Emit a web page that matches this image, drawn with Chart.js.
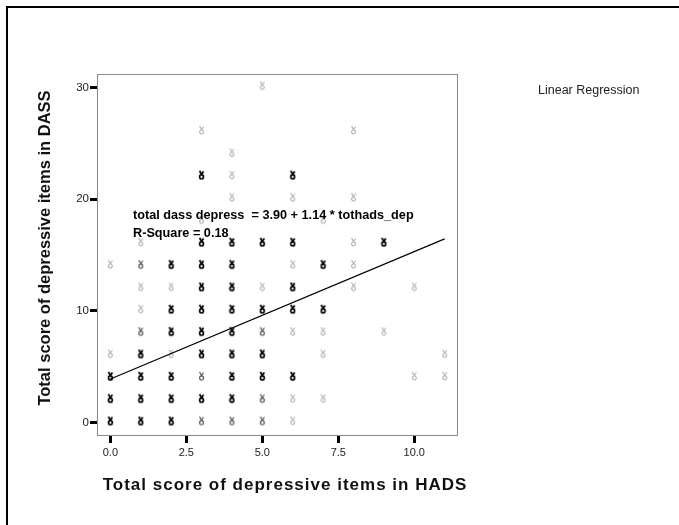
<!DOCTYPE html>
<html>
<head>
<meta charset="utf-8">
<title>DASS vs HADS depression scores</title>
<script src="https://cdn.jsdelivr.net/npm/chart.js@4.4.1/dist/chart.umd.min.js"></script>
<style>
    html, body { margin: 0; padding: 0; background: #ffffff; }
    #wrap { position: relative; width: 679px; height: 525px; }
</style>
</head>
<body>
<div id="wrap"><canvas id="chart" width="679" height="525"></canvas></div>
<script>
// Scatter data (HADS score, DASS score), grouped by how dark the symbol is
const darkX = [0,0,0, 1,1,1,1, 2,2,2,2,2,2, 3,3,3,3,3,3,3,3, 4,4,4,4,4,4,4,4, 5,5,5,5, 6,6,6,6,6, 7,7, 9];
const darkY = [4,2,0, 6,4,2,0, 14,10,8,4,2,0, 22,16,14,12,10,8,6,2, 16,14,12,10,8,6,4,2, 16,10,6,4, 22,16,12,10,4, 14,10, 16];

const midX = [1,1, 3,3, 4, 5,5,5];
const midY = [14,8, 4,0, 0, 8,2,0];

const lightX = [0,0, 1,1,1, 2,2, 3,3, 4,4,4, 5,5, 6,6,6,6,6, 7,7,7,7, 8,8,8,8,8, 9, 10,10, 11,11];
const lightY = [14,6, 16,12,10, 12,6, 26,18, 24,22,20, 30,12, 20,14,8,2,0, 18,8,6,2, 26,20,16,14,12, 8, 12,4, 6,4];

// Fitted line: total dass depress = 3.90 + 1.14 * tothads_dep
const fitIntercept = 3.90;
const fitSlope = 1.14;
const fitRange = [0, 11];
const rSquare = '0.18';

// Axis ticks
const xTicks = [0, 2.5, 5, 7.5, 10];
const yTicks = [0, 10, 20, 30];

const FONT = '"Liberation Sans", Arial, Helvetica, sans-serif';

function toPoints(xs, ys) {
    return xs.map((x, i) => ({ x: x, y: ys[i] }));
}

// small SPSS-like plotting symbol, sitting a little above its point
function makeGlyph(color, weight) {
    const c = document.createElement('canvas');
    c.width = 7;
    c.height = 14;
    const g = c.getContext('2d');
    g.strokeStyle = color;
    g.fillStyle = color;
    g.lineWidth = weight;
    g.beginPath();
    g.moveTo(1.5, 1);
    g.lineTo(3.5, 4.5);
    g.lineTo(5.5, 1.5);
    g.stroke();
    g.beginPath();
    g.ellipse(3.5, 6.9, 1.9, 2.1, 0, 0, Math.PI * 2);
    g.stroke();
    return c;
}

const glyphDark = makeGlyph('#000000', 1.7);
const glyphMid = makeGlyph('#555555', 1.2);
const glyphLight = makeGlyph('#9a9a9a', 1.0);

const fitPoints = fitRange.map(x => ({ x: x, y: fitIntercept + fitSlope * x }));

const decorPlugin = {
    id: 'decor',
    beforeDatasetsDraw(chart) {
        const ctx = chart.ctx;
        const a = chart.chartArea;
        ctx.save();
        ctx.strokeStyle = '#8a8a8a';
        ctx.lineWidth = 1;
        ctx.strokeRect(a.left + 0.5, a.top + 0.5, a.right - a.left - 1, a.bottom - a.top - 1);
        ctx.restore();
    },
    afterDraw(chart) {
        const ctx = chart.ctx;
        ctx.save();

        // outer frame (cropped on right and bottom)
        ctx.fillStyle = '#000';
        ctx.fillRect(6, 6, 673, 2);
        ctx.fillRect(6, 6, 2, 519);

        ctx.fillStyle = '#111';
        ctx.textBaseline = 'middle';

        // x title
        ctx.font = 'bold 17px ' + FONT;
        ctx.textAlign = 'center';
        if ('letterSpacing' in ctx) ctx.letterSpacing = '1px';
        ctx.fillText('Total score of depressive items in HADS', 285, 485);
        if ('letterSpacing' in ctx) ctx.letterSpacing = '0px';

        // y title
        ctx.save();
        ctx.translate(45, 248);
        ctx.rotate(-Math.PI / 2);
        ctx.font = 'bold 16.5px ' + FONT;
        ctx.fillText('Total score of depressive items in DASS', 0, 0);
        ctx.restore();

        // legend-like label
        ctx.font = '12.5px ' + FONT;
        ctx.textAlign = 'left';
        ctx.fillStyle = '#222';
        ctx.fillText('Linear Regression', 538, 91);

        // fit equation
        ctx.fillStyle = '#000';
        ctx.font = 'bold 12.7px ' + FONT;
        ctx.fillText('total dass depress  = ' + fitIntercept.toFixed(2) + ' + ' + fitSlope.toFixed(2) + ' * tothads_dep', 133, 215);
        ctx.fillText('R-Square = ' + rSquare, 133, 233);

        ctx.restore();
    }
};

const tickGrid = {
    display: true,
    drawOnChartArea: false,
    drawTicks: true,
    tickLength: 7,
    tickWidth: 3,
    tickColor: '#000'
};

new Chart(document.getElementById('chart').getContext('2d'), {
    type: 'scatter',
    data: {
        datasets: [
            {
                label: 'fit',
                type: 'line',
                data: fitPoints,
                borderColor: '#000',
                borderWidth: 1.2,
                pointRadius: 0,
                fill: false,
                tension: 0
            },
            {
                label: 'light',
                data: toPoints(lightX, lightY),
                pointStyle: glyphLight,
                pointRadius: 4
            },
            {
                label: 'mid',
                data: toPoints(midX, midY),
                pointStyle: glyphMid,
                pointRadius: 4
            },
            {
                label: 'dark',
                data: toPoints(darkX, darkY),
                pointStyle: glyphDark,
                pointRadius: 4
            }
        ]
    },
    options: {
        responsive: false,
        animation: false,
        devicePixelRatio: 1,
        layout: { padding: { left: 0, top: 74, right: 221, bottom: 0 } },
        plugins: {
            legend: { display: false },
            tooltip: { enabled: false }
        },
        scales: {
            x: {
                type: 'linear',
                min: -0.44,
                max: 11.44,
                afterBuildTicks: axis => { axis.ticks = xTicks.map(v => ({ value: v })); },
                afterFit: axis => { axis.height = 89; },
                grid: tickGrid,
                border: { display: false },
                ticks: {
                    autoSkip: false,
                    maxRotation: 0,
                    padding: 3,
                    color: '#222',
                    font: { family: FONT, size: 11 },
                    callback: v => Number(v).toFixed(1)
                }
            },
            y: {
                type: 'linear',
                min: -1.2,
                max: 31.2,
                afterBuildTicks: axis => { axis.ticks = yTicks.map(v => ({ value: v })); },
                afterFit: axis => { axis.width = 97; },
                grid: tickGrid,
                border: { display: false },
                ticks: {
                    autoSkip: false,
                    padding: 1,
                    color: '#222',
                    font: { family: FONT, size: 11.5 },
                    callback: v => String(v)
                }
            }
        }
    },
    plugins: [decorPlugin]
});
</script>
</body>
</html>
